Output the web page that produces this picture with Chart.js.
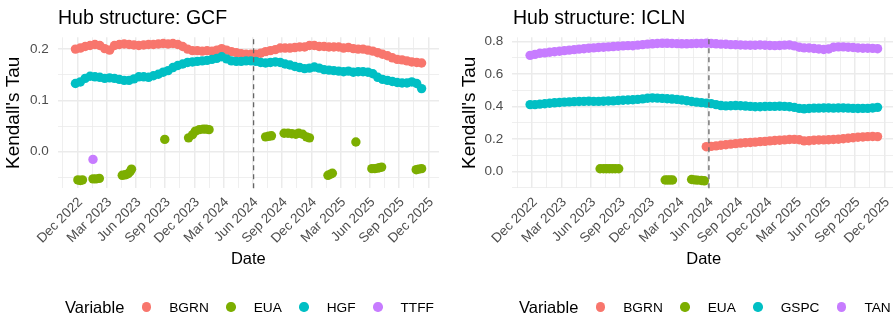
<!DOCTYPE html>
<html><head><meta charset="utf-8">
<script src="https://cdn.jsdelivr.net/npm/chart.js@4.4.1/dist/chart.umd.min.js"></script>
<style>
html,body{margin:0;padding:0;background:#fff;width:893px;height:320px;overflow:hidden;position:relative;font-family:"Liberation Sans",Arial,sans-serif;}
canvas{position:absolute;top:0;}
.title{position:absolute;top:7.5px;font-size:19.5px;line-height:1;color:#000;white-space:nowrap}
.legend{position:absolute;top:297px;height:20px;display:flex;align-items:center;white-space:nowrap;color:#000}
.legend .lt{font-size:16.5px}
.legend .dot{width:9.4px;height:9.4px;border-radius:50%;margin-left:17.5px;flex:none}
.legend .lab{font-size:13.7px;margin-left:18px}
</style></head><body>
<canvas id="c1" width="446" height="320" style="left:0;width:446px;height:320px"></canvas>
<canvas id="c2" width="456" height="320" style="left:446px;width:456px;height:320px"></canvas>
<div class="title" style="left:58px">Hub structure: GCF</div>
<div class="title" style="left:513px">Hub structure: ICLN</div>
<div class="legend" id="lg1" style="left:65px"></div>
<div class="legend" id="lg2" style="left:519px"></div>
<script>
// ---------- data (x in months since Dec 2022) ----------
const tickMonths = [0,3,6,9,12,15,18,21,24,27,30,33,36];
const tickLabels = ['Dec 2022','Mar 2023','Jun 2023','Sep 2023','Dec 2023','Mar 2024','Jun 2024','Sep 2024','Dec 2024','Mar 2025','Jun 2025','Sep 2025','Dec 2025'];
const breakMonth = 18.07;
const gridStart = -0.2, gridStep = 0.5; // sampling of the dense daily series

const gcfNames = ['BGRN','EUA','HGF','TTFF'];
const iclnNames = ['BGRN','EUA','GSPC','TAN'];
const seriesColors = ['#F8766D','#7CAE00','#00BFC4','#C77CFF'];

const gcfBGRN = [0.200,0.202,0.205,0.207,0.209,0.207,0.201,0.198,0.207,0.209,
 0.210,0.209,0.208,0.207,0.208,0.209,0.209,0.210,0.211,0.210,
 0.211,0.209,0.205,0.200,0.197,0.197,0.196,0.197,0.196,0.198,
 0.201,0.198,0.195,0.193,0.191,0.190,0.190,0.190,0.192,0.195,
 0.197,0.199,0.202,0.202,0.202,0.203,0.204,0.204,0.207,0.207,
 0.205,0.205,0.204,0.204,0.204,0.202,0.203,0.201,0.200,0.200,
 0.198,0.196,0.193,0.190,0.187,0.183,0.180,0.179,0.177,0.175,
 0.174,0.173];
const gcfHGF = [0.133,0.136,0.143,0.147,0.146,0.145,0.143,0.144,0.143,0.141,
 0.139,0.139,0.142,0.146,0.146,0.145,0.148,0.151,0.155,0.158,
 0.164,0.168,0.171,0.174,0.175,0.176,0.177,0.178,0.180,0.182,
 0.185,0.181,0.177,0.176,0.176,0.177,0.177,0.176,0.174,0.173,
 0.174,0.175,0.174,0.171,0.169,0.166,0.164,0.162,0.163,0.165,
 0.163,0.160,0.159,0.158,0.157,0.156,0.157,0.155,0.156,0.156,
 0.155,0.152,0.145,0.141,0.139,0.137,0.135,0.134,0.134,0.136,
 0.133,0.123];
const gcfEUAx = [0.05,0.3,0.52, 1.6,1.9,2.25, 4.6,4.9,5.2,5.4,5.55, 8.96,
 11.4,11.8,12.1,12.5,12.9,13.2,13.5, 19.3,19.6,19.9,
 21.2,21.6,22.0,22.4,22.7,23.1,23.5,23.8, 25.7,25.95,26.15, 28.56,
 30.2,30.5,30.8,31.0,31.2, 34.75,35.0,35.3];
const gcfEUAy = [-0.055,-0.056,-0.055, -0.053,-0.053,-0.052, -0.046,-0.045,-0.043,-0.039,-0.034, 0.024,
 0.027,0.033,0.040,0.043,0.044,0.044,0.043, 0.029,0.030,0.031,
 0.036,0.036,0.035,0.034,0.036,0.034,0.029,0.027, -0.046,-0.044,-0.042, 0.019,
 -0.033,-0.033,-0.032,-0.031,-0.030, -0.035,-0.034,-0.033];
const gcfTTFFx = [1.6];
const gcfTTFFy = [-0.015];

const iclnTAN = [0.716,0.722,0.729,0.731,0.735,0.738,0.741,0.745,0.748,0.751,
 0.754,0.757,0.760,0.762,0.764,0.766,0.768,0.770,0.772,0.774,
 0.776,0.775,0.779,0.782,0.785,0.787,0.789,0.790,0.790,0.789,
 0.788,0.787,0.787,0.788,0.789,0.789,0.790,0.789,0.787,0.785,
 0.784,0.782,0.781,0.780,0.779,0.778,0.778,0.780,0.778,0.777,
 0.776,0.777,0.779,0.780,0.774,0.766,0.762,0.761,0.758,0.755,
 0.752,0.755,0.766,0.768,0.768,0.766,0.764,0.761,0.760,0.760,
 0.759,0.757];
const iclnGSPC = [0.413,0.413,0.416,0.418,0.421,0.424,0.426,0.428,0.430,0.431,
 0.432,0.433,0.434,0.433,0.433,0.434,0.435,0.436,0.438,0.440,
 0.441,0.443,0.445,0.448,0.452,0.454,0.453,0.451,0.449,0.447,
 0.445,0.441,0.437,0.432,0.428,0.425,0.422,0.419,0.413,0.407,
 0.405,0.406,0.407,0.406,0.404,0.402,0.400,0.400,0.401,0.402,
 0.402,0.403,0.402,0.400,0.396,0.390,0.387,0.389,0.391,0.391,
 0.392,0.392,0.391,0.392,0.392,0.391,0.390,0.389,0.390,0.390,
 0.392,0.396];
const iclnBGRNStartIndex = 36; // series begins at the break (month 17.8)
const iclnBGRN = [0.154,0.156,0.159,0.163,0.166,0.170,0.173,0.176,0.178,0.180,
 0.182,0.185,0.187,0.190,0.192,0.194,0.196,0.198,0.199,0.197,
 0.190,0.191,0.194,0.195,0.196,0.197,0.198,0.200,0.203,0.206,
 0.209,0.212,0.214,0.216,0.217,0.216];
const iclnEUAx = [6.95,7.3,7.6,7.9,8.2,8.5,8.85, 13.6,13.85,14.1,14.35, 16.3,16.6,16.9,17.3,17.6];
const iclnEUAy = [0.018,0.018,0.018,0.018,0.018,0.018,0.018, -0.051,-0.051,-0.051,-0.051, -0.048,-0.050,-0.052,-0.054,-0.056];

const gcfYMajor = [0, 0.1, 0.2], gcfYMinor = [-0.05, 0.05, 0.15], gcfYLabels = ['0.0','0.1','0.2'];
const iclnYMajor = [0, 0.2, 0.4, 0.6, 0.8], iclnYMinor = [-0.1, 0.1, 0.3, 0.5, 0.7], iclnYLabels = ['0.0','0.2','0.4','0.6','0.8'];

// ---------- helpers ----------
const FONT = '"Liberation Sans", Arial, sans-serif';
const gridX = i => gridStart + gridStep * i;
const pts = (ys, offset) => ys.map((y, i) => ({x: gridX(i + (offset || 0)), y}));
const xy = (xs, ys) => xs.map((x, i) => ({x, y: ys[i]}));
const near = (a, b) => Math.abs(a - b) < 1e-6;

function ds(data, color, order) {
  return {data, backgroundColor: color, borderWidth: 0, pointRadius: 4.7, pointHoverRadius: 4.7, order, showLine: false};
}

const vline = {
  id: 'vline',
  afterDatasetsDraw(chart, args, opts) {
    const x = chart.scales.x.getPixelForValue(opts.value);
    const {top, bottom} = chart.chartArea;
    const c = chart.ctx;
    c.save();
    c.strokeStyle = '#666666'; c.lineWidth = 1.3; c.setLineDash([5, 4]);
    c.beginPath(); c.moveTo(x, bottom); c.lineTo(x, top); c.stroke();
    c.restore();
  }
};

function makeChart(id, datasets, cfg) {
  const xMinor = tickMonths.map(m => m - 1.5).concat([tickMonths[tickMonths.length - 1] + 1.5]);
  return new Chart(document.getElementById(id), {
    type: 'scatter',
    data: {datasets},
    plugins: [vline],
    options: {
      responsive: false, animation: false, events: [],
      layout: {padding: {left: 0, top: 37.3, right: cfg.padRight, bottom: 46.7}},
      plugins: {legend: {display: false}, tooltip: {enabled: false}, title: {display: false}, vline: {value: breakMonth}},
      scales: {
        x: {
          type: 'linear', min: -2.02, max: 37.09,
          afterBuildTicks: s => {
            s.ticks = tickMonths.map(v => ({value: v})).concat(xMinor.map(v => ({value: v, minorGrid: true})))
              .filter(t => t.value >= s.min && t.value <= s.max).sort((a, b) => a.value - b.value);
          },
          afterFit: s => { s.height = 85; },
          grid: {color: '#EBEBEB', lineWidth: c => (c.tick && c.tick.minorGrid) ? 0.8 : 1.5, drawTicks: false},
          border: {display: false},
          ticks: {
            autoSkip: false, maxRotation: 45, minRotation: 45, padding: 6, labelOffset: 3,
            color: '#4D4D4D', font: {family: FONT, size: 13.5},
            callback: v => { const i = tickMonths.findIndex(m => near(m, v)); return i >= 0 ? tickLabels[i] : ''; }
          },
          title: {display: true, text: 'Date', color: '#000', font: {family: FONT, size: 16.5}, padding: {top: 0, bottom: 3.7}}
        },
        y: {
          type: 'linear', min: cfg.yMin, max: cfg.yMax,
          afterBuildTicks: s => {
            s.ticks = cfg.yMajor.map(v => ({value: v})).concat(cfg.yMinor.map(v => ({value: v, minorGrid: true})))
              .filter(t => t.value >= s.min && t.value <= s.max).sort((a, b) => a.value - b.value);
          },
          afterFit: s => { s.width = cfg.yWidth; },
          grid: {color: '#EBEBEB', lineWidth: c => (c.tick && c.tick.minorGrid) ? 0.8 : 1.5, drawTicks: false},
          border: {display: false},
          ticks: {
            autoSkip: false, padding: 9, color: '#4D4D4D', font: {family: FONT, size: 13.5},
            callback: v => { const i = cfg.yMajor.findIndex(m => near(m, v)); return i >= 0 ? cfg.yLabels[i] : ''; }
          },
          title: {display: true, text: "Kendall's Tau", color: '#000', font: {family: FONT, size: 19}, padding: {top: cfg.yTitlePad, bottom: 0}}
        }
      }
    }
  });
}

makeChart('c1', [
  ds(pts(gcfBGRN), seriesColors[0], 4),
  ds(xy(gcfEUAx, gcfEUAy), seriesColors[1], 3),
  ds(pts(gcfHGF), seriesColors[2], 2),
  ds(xy(gcfTTFFx, gcfTTFFy), seriesColors[3], 1)
], {yMin: -0.0713, yMax: 0.223, yMajor: gcfYMajor, yMinor: gcfYMinor, yLabels: gcfYLabels, yWidth: 57.7, yTitlePad: 2.1, padRight: 4.3});

makeChart('c2', [
  ds(pts(iclnBGRN, iclnBGRNStartIndex), seriesColors[0], 4),
  ds(xy(iclnEUAx, iclnEUAy), seriesColors[1], 3),
  ds(pts(iclnGSPC), seriesColors[2], 2),
  ds(pts(iclnTAN), seriesColors[3], 1)
], {yMin: -0.102, yMax: 0.827, yMajor: iclnYMajor, yMinor: iclnYMinor, yLabels: iclnYLabels, yWidth: 66.3, yTitlePad: 12.1, padRight: 5.2});

function legend(id, names) {
  const el = document.getElementById(id);
  const t = document.createElement('span'); t.className = 'lt'; t.textContent = 'Variable'; el.appendChild(t);
  names.forEach((n, i) => {
    const d = document.createElement('span'); d.className = 'dot'; d.style.background = seriesColors[i]; el.appendChild(d);
    const l = document.createElement('span'); l.className = 'lab'; l.textContent = n; el.appendChild(l);
  });
}
legend('lg1', gcfNames);
legend('lg2', iclnNames);
</script>
</body></html>
